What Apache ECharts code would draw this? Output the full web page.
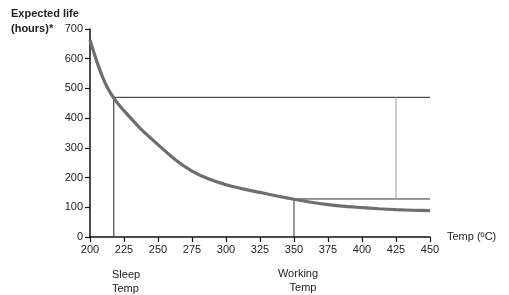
<!DOCTYPE html>
<html>
	<head>
		<meta charset="UTF-8">
		<title></title>
		<style>
			html, body { margin: 0; padding: 0; background: #fff; }
			#main { width: 509px; height: 295px; }
		</style>
	</head>
	<body>
		<div id="main"></div>
		<script src="https://cdn.jsdelivr.net/npm/echarts@6/dist/echarts.min.js"></script>
		<script>
			// curve
			var temps = [200, 205, 210, 215, 220, 225, 237.5, 250, 262.5, 275, 287.5, 300, 312.5, 325, 337.5, 350, 362.5, 375, 387.5, 400, 412.5, 425, 437.5, 450];
			var lifeHours = [663, 591, 530, 485, 452, 425, 363, 311, 261, 222, 195, 176, 162, 150, 138, 127, 117, 109, 103, 99, 95, 92, 90, 89];
			var xTicks = [200, 225, 250, 275, 300, 325, 350, 375, 400, 425, 450];
			var yTicks = [0, 100, 200, 300, 400, 500, 600, 700];
			// reference points
			var sleepTemp = 217.5, sleepLife = 470;
			var workTemp = 350, workLife = 128;
			var markTemp = 425;

			var curve = [];
			for (var i = 0; i < temps.length; i++) {
				curve.push([temps[i], lifeHours[i]]);
			}
			var font = 'Liberation Sans, Arial, sans-serif';

			function seg(data, color, w) {
				return {
					type: 'line', data: data, symbol: 'none', silent: true,
					lineStyle: { color: color, width: w }, z: 1
				};
			}

			var myChart = echarts.init(document.getElementById('main'));
			var option = {
				animation: false,
				grid: { left: 90, right: 79, top: 29, bottom: 58 },
				xAxis: {
					type: 'value', min: xTicks[0], max: xTicks[xTicks.length - 1], interval: 25,
					axisLine: { lineStyle: { color: '#111', width: 1.5 } },
					axisTick: { show: true, length: 5, lineStyle: { color: '#111', width: 1.2 } },
					axisLabel: { color: '#222', fontSize: 11, fontFamily: font, margin: 7 },
					splitLine: { show: false }
				},
				yAxis: {
					type: 'value', min: yTicks[0], max: yTicks[yTicks.length - 1], interval: 100,
					axisLine: { show: true, lineStyle: { color: '#111', width: 1.5 } },
					axisTick: { show: true, length: 5, lineStyle: { color: '#111', width: 1.2 } },
					axisLabel: { color: '#222', fontSize: 11, fontFamily: font, margin: 7 },
					splitLine: { show: false }
				},
				graphic: [
					{ type: 'text', left: 11, top: 6, style: { text: 'Expected life\n(hours)*', font: 'bold 11px ' + font, fill: '#222', lineHeight: 15 } },
					{ type: 'text', left: 447, top: 231, style: { text: 'Temp (ºC)', font: '11px ' + font, fill: '#222' } },
					{ type: 'text', left: 112, top: 268, style: { text: 'Sleep\nTemp', font: '11px ' + font, fill: '#222', lineHeight: 14 } },
					{ type: 'text', x: 298, y: 268, style: { text: 'Working', font: '11px ' + font, fill: '#222', align: 'center', verticalAlign: 'top' } },
					{ type: 'text', x: 303, y: 282, style: { text: 'Temp', font: '11px ' + font, fill: '#222', align: 'center', verticalAlign: 'top' } }
				],
				series: [
					seg([[sleepTemp, 0], [sleepTemp, sleepLife], [450, sleepLife]], '#222', 1),
					seg([[workTemp, 0], [workTemp, workLife], [450, workLife]], '#333', 1),
					seg([[markTemp, workLife], [markTemp, sleepLife]], '#aaa', 1.2),
					{
						type: 'line', data: curve, smooth: 0.3, symbol: 'none', z: 3,
						lineStyle: { color: '#6e6e6e', width: 3.2 }
					}
				]
			};
			myChart.setOption(option);
		</script>
	</body>
</html>
